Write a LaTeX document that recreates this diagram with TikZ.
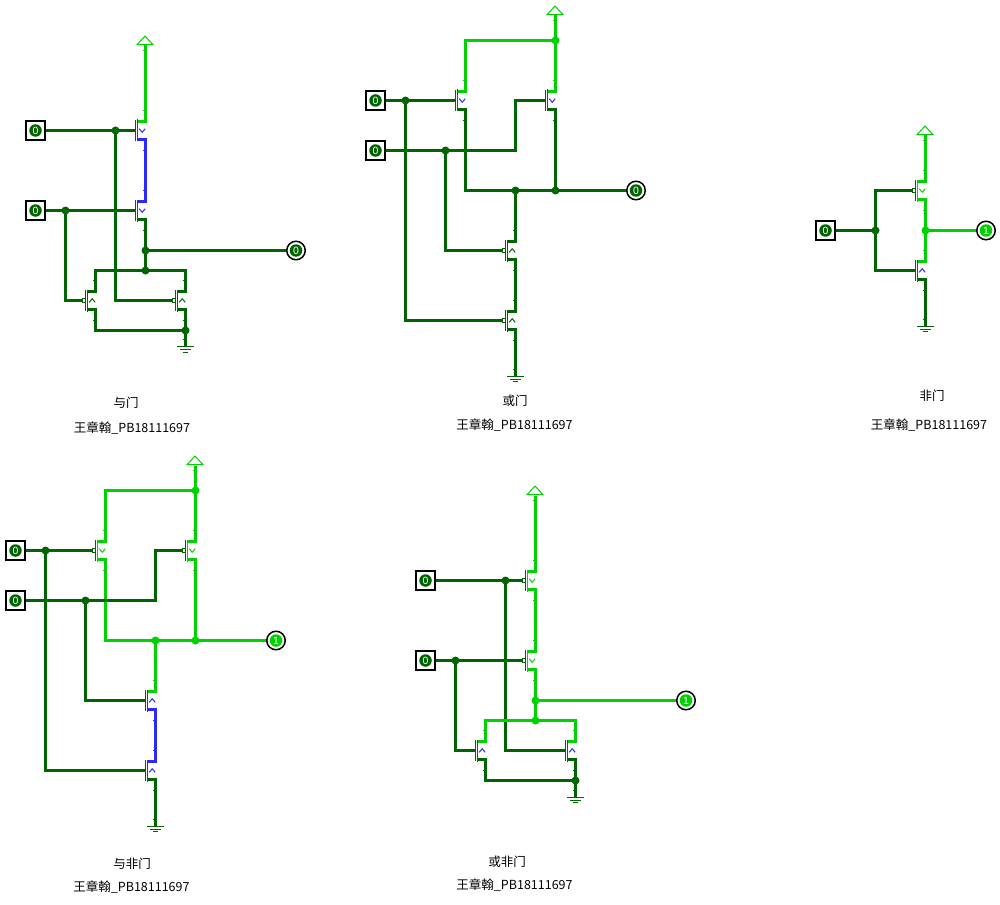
\documentclass[tikz,border=0pt]{standalone}
\usepackage{fontspec}
\setmainfont{Liberation Sans}
\newfontfamily\cjk{Noto Sans CJK SC}
\usetikzlibrary{calc}
\usetikzlibrary{positioning}

\definecolor{lowc}{RGB}{0,100,0}
\definecolor{highc}{RGB}{0,210,0}
\definecolor{openc}{RGB}{40,40,255}

\tikzset{
    wire/.style={line width=3pt, line join=miter},
    thin wire/.style={line width=1pt},
    dot/.style={circle, fill=#1, inner sep=0pt, minimum size=8pt},
    inbox/.style={draw=black, line width=2pt, fill=white, inner sep=0pt, minimum size=18.5pt},
    outring/.style={circle, draw=black, line width=1.5pt, fill=white, inner sep=0pt, minimum size=18.5pt},
    bit/.style={circle, fill=#1, text=white, inner sep=0pt, minimum size=12.5pt, font=\fontsize{10.5}{10.5}\selectfont},
    caption/.style={font=\cjk\fontsize{12.5}{12.5}\selectfont, inner sep=0pt}
}

% name, x, y, channel colour, chevron (1 down, -1 up), bubble (0/1), top colour, bottom colour
\newcommand{\fet}[8]{
    \draw[thin wire, lowc] (#2-9.8,#3-10.5) -- (#2-9.8,#3+10.5);
    \draw[thin wire, #4] (#2-8.1,#3-11) -- (#2-8.1,#3+11);
    \draw[thin wire, #4] (#2-6.3,#3-1.8*#5) -- (#2-3.3,#3+1.8*#5) -- (#2-0.3,#3-1.8*#5);
    \draw[wire, #7] (#2-7.7,#3-9) -- (#2+1.5,#3-9);
    \draw[wire, #8] (#2-7.7,#3+9) -- (#2+1.5,#3+9);
    \draw[thin wire, #7] (#2-3,#3-20) -- (#2-1,#3-20);
    \draw[thin wire, #8] (#2-3,#3+20) -- (#2-1,#3+20);
    \ifnum#6=1
        \draw[thin wire, lowc, fill=white] (#2-13.5,#3-2) rectangle (#2-10.5,#3+2);
        \coordinate (#1-g) at (#2-13.5,#3);
    \else
        \coordinate (#1-g) at (#2-9.8,#3);
    \fi
    \coordinate (#1-t) at (#2,#3-9);
    \coordinate (#1-b) at (#2,#3+9);
}

% name, x, y of the base line
\newcommand{\vdd}[3]{
    \draw[thin wire, highc, fill=white] (#2-8.5,#3-0.8) -- (#2-0.5,#3-9.5) -- (#2+7.5,#3-0.8) -- cycle;
    \draw[thin wire, highc] (#2-3,#3+5) -- (#2-1,#3+5);
    \coordinate (#1) at (#2,#3);
}

% name, x, y of the long line
\newcommand{\gnd}[3]{
    \draw[thin wire, lowc] (#2-8.2,#3) -- (#2+8.5,#3);
    \draw[thin wire, lowc] (#2-5.5,#3+3) -- (#2+5.2,#3+3);
    \draw[thin wire, lowc] (#2-2.8,#3+5.6) -- (#2+2.8,#3+5.6);
    \draw[thin wire, lowc] (#2-3,#3-7) -- (#2-1,#3-7);
    \coordinate (#1) at (#2,#3);
}

\begin{document}
\begin{tikzpicture}[x=1pt,y=-1pt,shift={(0.5,0.5)}]
\useasboundingbox (-0.5,-0.5) rectangle (999.5,903.5);

% Input pins, all at 0
\foreach \nm/\x/\y in {ain1/35/130, ain2/35/210, oin1/375/100, oin2/375/150, nin/825/230,
    nain1/15/550, nain2/15/600, noin1/425/580, noin2/425/660}
{
    \node[inbox] (\nm) at (\x,\y) {};
}

% Output pins
\foreach \nm/\x/\y in {aout/295.5/250, oout/635.5/190, nout/985.5/230, naout/275.5/640, noout/685.5/700}
{
    \node[outring] (\nm) at (\x,\y) {};
}

% AND gate
\vdd{avdd}{145}{45}
\gnd{agnd}{185}{346}
\fet{at1}{145}{130}{openc}{1}{0}{highc}{openc}
\fet{at2}{145}{210}{openc}{1}{0}{openc}{lowc}
\fet{at3}{95}{300}{lowc}{-1}{1}{lowc}{lowc}
\fet{at4}{185}{300}{lowc}{-1}{1}{lowc}{lowc}
\coordinate (aj1) at (115,130);
\coordinate (aj2) at (65,210);
\coordinate (aj3) at (145,250);
\coordinate (aj4) at (145,270);
\coordinate (aj5) at (185,330);
\begin{scope}[wire, lowc]
\draw (ain1) -- (aj1) -- (at1-g);
\draw (ain2) -- (aj2) -- (at2-g);
\draw (aj1) |- (at4-g);
\draw (aj2) |- (at3-g);
\draw (at2-b) -- (aj3) -- (aj4);
\draw (aj3) -- (aout);
\draw (at3-t) |- (aj4);
\draw (at4-t) |- (aj4);
\draw (at3-b) |- (aj5);
\draw (at4-b) -- (aj5) -- (agnd);
\end{scope}
\draw[wire, highc] (avdd) -- (at1-t);
\draw[wire, openc] (at1-b) -- (at2-t);

% OR gate
\vdd{ovdd}{555}{15}
\gnd{ognd}{515}{375.5}
\fet{ot1}{465}{100}{openc}{1}{0}{highc}{lowc}
\fet{ot2}{555}{100}{openc}{1}{0}{highc}{lowc}
\fet{ot3}{515}{250}{lowc}{-1}{1}{lowc}{lowc}
\fet{ot4}{515}{320}{lowc}{-1}{1}{lowc}{lowc}
\coordinate (oj1) at (555,40);
\coordinate (oj2) at (405,100);
\coordinate (oj3) at (445,150);
\coordinate (oj4) at (515,190);
\coordinate (oj5) at (555,190);
\coordinate (oc1) at (515,100);
\begin{scope}[wire, lowc]
\draw (oin1) -- (oj2) -- (ot1-g);
\draw (oin2) -- (oj3) -| (oc1) -- (ot2-g);
\draw (oj2) |- (ot4-g);
\draw (oj3) |- (ot3-g);
\draw (ot1-b) |- (oj4);
\draw (oj4) -- (oj5) -- (oout);
\draw (ot2-b) -- (oj5);
\draw (oj4) -- (ot3-t);
\draw (ot3-b) -- (ot4-t);
\draw (ot4-b) -- (ognd);
\end{scope}
\draw[wire, highc] (ovdd) -- (oj1) -- (ot2-t);
\draw[wire, highc] (oj1) -| (ot1-t);

% NOT gate
\vdd{nvdd}{925}{135}
\gnd{ngnd}{925}{325.8}
\fet{nt1}{925}{190}{highc}{1}{1}{highc}{highc}
\fet{nt2}{925}{270}{openc}{-1}{0}{highc}{lowc}
\coordinate (nj1) at (875,230);
\coordinate (nj2) at (925,230);
\begin{scope}[wire, lowc]
\draw (nin) -- (nj1);
\draw (nj1) |- (nt1-g);
\draw (nj1) |- (nt2-g);
\draw (nt2-b) -- (ngnd);
\end{scope}
\begin{scope}[wire, highc]
\draw (nvdd) -- (nt1-t);
\draw (nt1-b) -- (nj2) -- (nt2-t);
\draw (nj2) -- (nout);
\end{scope}

% NAND gate
\vdd{navdd}{195}{465}
\gnd{nagnd}{155}{825.5}
\fet{nat1}{105}{550}{highc}{1}{1}{highc}{highc}
\fet{nat2}{195}{550}{highc}{1}{1}{highc}{highc}
\fet{nat3}{155}{700}{openc}{-1}{0}{highc}{openc}
\fet{nat4}{155}{770}{openc}{-1}{0}{openc}{lowc}
\coordinate (naj1) at (195,490);
\coordinate (naj2) at (45,550);
\coordinate (naj3) at (85,600);
\coordinate (naj4) at (155,640);
\coordinate (naj5) at (195,640);
\coordinate (nac1) at (155,550);
\begin{scope}[wire, highc]
\draw (navdd) -- (naj1) -- (nat2-t);
\draw (naj1) -| (nat1-t);
\draw (nat1-b) |- (naj4);
\draw (naj4) -- (naj5) -- (naout);
\draw (nat2-b) -- (naj5);
\draw (naj4) -- (nat3-t);
\end{scope}
\begin{scope}[wire, lowc]
\draw (nain1) -- (naj2) -- (nat1-g);
\draw (nain2) -- (naj3) -| (nac1) -- (nat2-g);
\draw (naj2) |- (nat4-g);
\draw (naj3) |- (nat3-g);
\draw (nat4-b) -- (nagnd);
\end{scope}
\draw[wire, openc] (nat3-b) -- (nat4-t);

% NOR gate
\vdd{novdd}{535}{495}
\gnd{nognd}{575}{796.5}
\fet{not1}{535}{580}{highc}{1}{1}{highc}{highc}
\fet{not2}{535}{660}{highc}{1}{1}{highc}{highc}
\fet{not3}{485}{750}{openc}{-1}{0}{highc}{lowc}
\fet{not4}{575}{750}{openc}{-1}{0}{highc}{lowc}
\coordinate (noj1) at (505,580);
\coordinate (noj2) at (455,660);
\coordinate (noj3) at (535,700);
\coordinate (noj4) at (535,720);
\coordinate (noj5) at (575,780);
\begin{scope}[wire, lowc]
\draw (noin1) -- (noj1) -- (not1-g);
\draw (noin2) -- (noj2) -- (not2-g);
\draw (noj1) |- (not4-g);
\draw (noj2) |- (not3-g);
\draw (not3-b) |- (noj5);
\draw (not4-b) -- (noj5) -- (nognd);
\end{scope}
\begin{scope}[wire, highc]
\draw (novdd) -- (not1-t);
\draw (not1-b) -- (not2-t);
\draw (not2-b) -- (noj3) -- (noj4);
\draw (noj3) -- (noout);
\draw (not3-t) |- (noj4);
\draw (not4-t) |- (noj4);
\end{scope}

% Junction dots, over the wires
\foreach \nm/\col in {aj1/lowc, aj2/lowc, aj3/lowc, aj4/lowc, aj5/lowc,
    oj1/highc, oj2/lowc, oj3/lowc, oj4/lowc, oj5/lowc,
    nj1/lowc, nj2/highc,
    naj1/highc, naj2/lowc, naj3/lowc, naj4/highc, naj5/highc,
    noj1/lowc, noj2/lowc, noj3/highc, noj4/highc, noj5/lowc}
{
    \node[dot=\col] (\nm-dot) at (\nm) {};
}

% Values inside the pins
\foreach \nm/\col/\val in {ain1/lowc/0, ain2/lowc/0, oin1/lowc/0, oin2/lowc/0, nin/lowc/0,
    nain1/lowc/0, nain2/lowc/0, noin1/lowc/0, noin2/lowc/0,
    aout/lowc/0, oout/lowc/0, nout/highc/1, naout/highc/1, noout/highc/1}
{
    \node[bit=\col] (\nm-val) at (\nm) {\val};
}

% Labels
\node[caption] (alabel) at (125.5,402.5) {与门};
\node[caption] (olabel) at (514.5,400.5) {或门};
\node[caption] (nlabel) at (931.5,395.5) {非门};
\node[caption] (nalabel) at (131.5,863.5) {与非门};
\node[caption] (nolabel) at (506.5,861.5) {或非门};
\foreach \nm/\x/\y in {asign/131.5/427.5, osign/514/424.5, nsign/928.5/424.5, nasign/131/887, nosign/514/884.5}
{
    \node[caption] (\nm) at (\x,\y) {王章翰\_PB18111697};
}

\end{tikzpicture}
\end{document}
